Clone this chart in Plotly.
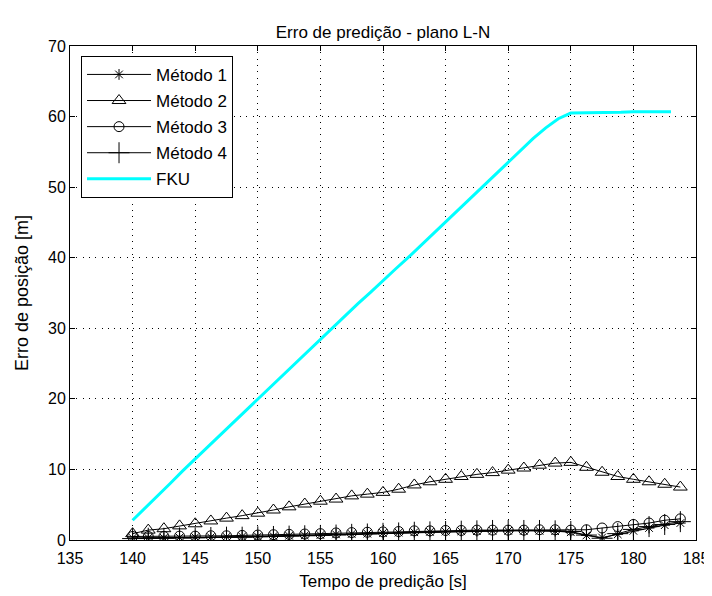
import plotly.graph_objects as go

# ---- data ----
t_fku = [140, 141, 142, 143, 144, 145, 146, 147, 148, 149, 150, 151, 152, 153, 154,
         155, 156, 157, 158, 159, 160, 161, 162, 163, 164, 165, 166, 167, 168, 169,
         170, 171, 172, 173, 174, 175, 176, 177, 178, 179, 180, 181, 182, 183]
fku = [2.8, 4.5, 6.3, 8.0, 9.8, 11.5, 13.2, 14.9, 16.6, 18.3, 20.0, 21.7, 23.4, 25.1, 26.8,
       28.5, 30.2, 31.8, 33.5, 35.1, 36.8, 38.4, 40.0, 41.7, 43.4, 45.1, 46.8, 48.4, 50.1, 51.8,
       53.5, 55.2, 56.9, 58.4, 59.7, 60.5, 60.5, 60.6, 60.6, 60.6, 60.7, 60.7, 60.7, 60.7]

t_met = [140.0, 141.25, 142.5, 143.75, 145.0, 146.25, 147.5, 148.75, 150.0, 151.25,
         152.5, 153.75, 155.0, 156.25, 157.5, 158.75, 160.0, 161.25, 162.5, 163.75,
         165.0, 166.25, 167.5, 168.75, 170.0, 171.25, 172.5, 173.75, 175.0, 176.25,
         177.5, 178.75, 180.0, 181.25, 182.5, 183.75]
metodo1 = [0.3, 0.3, 0.3, 0.35, 0.4, 0.4, 0.45, 0.5, 0.5, 0.55,
           0.6, 0.65, 0.7, 0.8, 0.85, 0.9, 1.0, 1.05, 1.1, 1.15,
           1.2, 1.25, 1.25, 1.3, 1.3, 1.3, 1.3, 1.25, 1.1, 0.65,
           0.35, 0.8, 1.3, 1.7, 2.1, 2.4]
metodo2 = [0.9, 1.4, 1.6, 2.0, 2.3, 2.7, 3.1, 3.45, 3.8, 4.25,
           4.7, 5.1, 5.5, 5.8, 6.25, 6.5, 6.75, 7.2, 7.8, 8.25,
           8.6, 9.0, 9.3, 9.55, 9.9, 10.2, 10.6, 10.9, 11.0, 10.3,
           9.6, 9.0, 8.6, 8.25, 7.9, 7.5]
metodo3 = [0.5, 0.5, 0.5, 0.55, 0.55, 0.6, 0.6, 0.65, 0.7, 0.75,
           0.8, 0.85, 0.9, 1.0, 1.05, 1.1, 1.15, 1.2, 1.3, 1.3,
           1.35, 1.35, 1.4, 1.4, 1.4, 1.4, 1.45, 1.45, 1.4, 1.45,
           1.7, 1.9, 2.2, 2.4, 2.8, 3.0]
metodo4 = [0.2, 0.25, 0.25, 0.3, 0.3, 0.35, 0.4, 0.4, 0.45, 0.5,
           0.55, 0.6, 0.65, 0.7, 0.8, 0.85, 0.95, 1.0, 1.1, 1.15,
           1.2, 1.25, 1.3, 1.35, 1.35, 1.35, 1.35, 1.3, 1.2, 0.7,
           0.25, 0.9, 1.5, 1.9, 2.2, 2.6]

x_ticks = [135, 140, 145, 150, 155, 160, 165, 170, 175, 180, 185]
y_ticks = [0, 10, 20, 30, 40, 50, 60, 70]

FONT = "Liberation Sans, Arial, sans-serif"

fig = go.Figure()

def met_trace(y, name, symbol, size, lw=1):
    return go.Scatter(
        x=t_met, y=y, name=name, mode="lines+markers",
        line=dict(color="black", width=1),
        marker=dict(symbol=symbol, size=size, color="black",
                    line=dict(color="black", width=lw)),
        legendgroup=name,
    )

fig.add_trace(met_trace(metodo1, "Método 1", "asterisk-open", 9))
fig.add_trace(met_trace(metodo2, "Método 2", "triangle-up-open", 12))
fig.add_trace(met_trace(metodo3, "Método 3", "circle-open", 10))
fig.add_trace(met_trace(metodo4, "Método 4", "cross-thin-open", 15))
fig.add_trace(go.Scatter(x=t_fku, y=fku, name="FKU", mode="lines",
                         line=dict(color="#00FFFF", width=3), legendgroup="FKU"))

axis_common = dict(
    showline=True, linecolor="black", linewidth=1, mirror="ticks",
    ticks="inside", ticklen=5, tickcolor="black",
    showgrid=True, gridcolor="black", gridwidth=1, griddash="1px,5.3px",
    zeroline=False, tickfont=dict(family=FONT, size=16, color="black"),
)

fig.update_xaxes(range=[135, 185], tickvals=x_ticks, ticktext=[str(v) for v in x_ticks],
                 ticklabelstandoff=4,
                 title=dict(text="Tempo de predição [s]", font=dict(family=FONT, size=17, color="black"),
                            standoff=8),
                 **axis_common)
fig.update_yaxes(range=[0, 70], tickvals=y_ticks, ticktext=[str(v) for v in y_ticks],
                 title=dict(text="Erro de posição [m]", font=dict(family=FONT, size=18, color="black"),
                            standoff=14),
                 **axis_common)

fig.update_layout(
    width=704, height=588,
    margin=dict(l=62, r=16, t=38, b=56, autoexpand=False),
    paper_bgcolor="white", plot_bgcolor="white",
    title=dict(text="Erro de predição - plano L-N", x=0.5327, xanchor="center",
               y=0.959, yanchor="middle", font=dict(family=FONT, size=17, color="black")),
    legend=dict(x=0.0176, y=0.98, xanchor="left", yanchor="top",
                bgcolor="white", bordercolor="black", borderwidth=1,
                font=dict(family=FONT, size=17, color="black"),
                tracegroupgap=1, itemwidth=64, traceorder="grouped",
                entrywidth=84, entrywidthmode="pixels"),
    showlegend=True,
)

fig.write_html("out.html")
